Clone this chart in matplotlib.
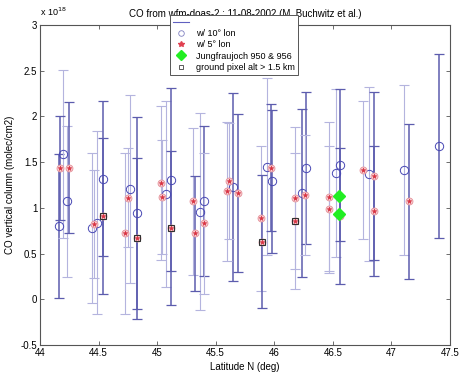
import matplotlib
matplotlib.use('Agg')
import matplotlib.pyplot as plt
from matplotlib.lines import Line2D

plt.rcParams['font.family'] = ['Liberation Sans', 'DejaVu Sans']

# circles: w/ 10 deg lon  (lat, value, error, dark bar?)
circ_lat  = [44.16, 44.20, 44.23, 44.44, 44.49, 44.54, 44.77, 44.83, 45.08, 45.12,
             45.37, 45.40, 45.65, 45.94, 45.98, 46.24, 46.27, 46.53, 46.56, 46.81,
             47.11, 47.41]
circ_val  = [0.80, 1.59, 1.07, 0.78, 0.84, 1.32, 1.21, 0.94, 1.15, 1.31,
             0.96, 1.08, 1.23, 1.45, 1.29, 1.16, 1.44, 1.38, 1.47, 1.37,
             1.41, 1.68]
circ_err  = [0.785, 0.92, 0.83, 0.82, 1.00, 0.85, 1.03, 1.05, 1.015, 1.00,
             1.08, 0.82, 1.03, 0.97, 0.78, 0.92, 0.83, 0.915, 0.83, 0.95,
             0.93, 1.005]
circ_dark = [1, 0, 0, 0, 0, 1, 0, 1, 0, 1,
             0, 1, 1, 0, 1, 1, 1, 0, 1, 0,
             0, 1]

# stars: w/ 5 deg lon
star_lat  = [44.17, 44.25, 44.46, 44.54, 44.73, 44.755, 44.83, 45.03, 45.04, 45.12,
             45.31, 45.32, 45.40, 45.60, 45.61, 45.69, 45.89, 45.90, 45.97, 46.18,
             46.18, 46.26, 46.47, 46.47, 46.56, 46.76, 46.85, 46.85, 47.15]
star_val  = [1.44, 1.44, 0.82, 0.91, 0.72, 1.11, 0.67, 1.27, 1.12, 0.78,
             1.07, 0.72, 0.83, 1.18, 1.29, 1.16, 0.885, 0.63, 1.44, 1.11,
             0.855, 1.14, 1.12, 0.985, 0.91, 1.41, 1.35, 0.965, 1.07]
star_err  = [0.57, 0.715, 0.59, 0.85, 0.88, 0.54, 0.88, 0.845, 0.625, 0.845,
             0.80, 0.625, 0.775, 0.76, 0.635, 0.865, 0.795, 0.73, 0.695, 0.775,
             0.74, 0.66, 0.815, 0.695, 0.745, 0.755, 0.92, 0.715, 0.845]
star_dark = [1, 1, 0, 1, 0, 0, 1, 0, 0, 1,
             0, 1, 0, 0, 0, 1, 0, 1, 1, 0,
             0, 0, 0, 0, 1, 0, 1, 1, 1]

# ground pixel alt > 1.5 km
sq_lat = [44.54, 44.83, 45.12, 45.90, 46.18]
sq_val = [0.91, 0.67, 0.78, 0.63, 0.855]

# Jungfraujoch 950 & 956
jf_lat = [46.55, 46.55]
jf_val = [1.13, 0.93]

LIGHT = '#b4b4de'
DARK = '#5c5cae'

fig = plt.figure(figsize=(4.59, 3.76), dpi=100)
ax = fig.add_axes([0.0871, 0.0824, 0.893, 0.851])


def draw_bars(lats, vals, errs, dark):
    for x, y, e, d in zip(lats, vals, errs, dark):
        ax.errorbar(x, y, yerr=e, fmt='none',
                    ecolor=DARK if d else LIGHT,
                    elinewidth=1.1 if d else 0.8,
                    capsize=3.5, capthick=0.9 if d else 0.8, zorder=2)


draw_bars(circ_lat, circ_val, circ_err, circ_dark)
draw_bars(star_lat, star_val, star_err, star_dark)

ax.plot(circ_lat, circ_val, 'o', mfc='none', mec='#4848b4', ms=6, mew=0.7, zorder=4)
ax.plot(star_lat, star_val, 'o', mfc='#f6d0d4', mec='#e69098', ms=5, mew=0.6, zorder=4)
ax.plot(star_lat, star_val, '*', color='#d83040', ms=3.5, mew=0.4, zorder=5)
ax.plot(sq_lat, sq_val, 's', mfc='none', mec='#303030', ms=4.5, mew=0.8, zorder=6)
ax.plot(jf_lat, jf_val, 'D', color='#22ee22', mec='#22ee22', ms=6, zorder=7)

ax.set_xlim(44, 47.5)
ax.set_ylim(-0.5, 3)
ax.set_xticks([44, 44.5, 45, 45.5, 46, 46.5, 47, 47.5])
ax.set_xticklabels(['44', '44.5', '45', '45.5', '46', '46.5', '47', '47.5'])
ax.set_yticks([-0.5, 0, 0.5, 1, 1.5, 2, 2.5, 3])
ax.set_yticklabels(['-0.5', '0', '0.5', '1', '1.5', '2', '2.5', '3'])
ax.tick_params(direction='in', top=True, right=True, labelsize=7, length=3,
               width=0.6, color='#555555', pad=2)
for sp in ax.spines.values():
    sp.set_color('#555555')
    sp.set_linewidth(0.8)

ax.set_xlabel('Latitude N (deg)', fontsize=7, labelpad=3)
ax.set_ylabel('CO vertical column (molec/cm2)', fontsize=7, labelpad=4)
ax.set_title('CO from wfm-doas-2 : 11-08-2002 (M. Buchwitz et al.)', fontsize=7, pad=6)
fig.text(0.087, 0.952, r'x 10$^{18}$', fontsize=6.5, ha='left', va='bottom')

handles = [
    Line2D([], [], color='#6060c0', lw=0.8),
    Line2D([], [], ls='none', marker='o', mfc='none', mec='#8080c0', ms=4, mew=0.6),
    Line2D([], [], ls='none', marker='*', color='#e04050', ms=4),
    Line2D([], [], ls='none', marker='D', color='#22ee22', ms=5),
    Line2D([], [], ls='none', marker='s', mfc='none', mec='#404040', ms=3.5, mew=0.6),
]
labels = ['', 'w/ 10\u00b0 lon', 'w/ 5\u00b0 lon', 'Jungfraujoch 950 & 956',
          'ground pixel alt > 1.5 km']
leg = ax.legend(handles, labels, loc='upper left', bbox_to_anchor=(0.317, 1.031),
                fontsize=6.5, frameon=True, fancybox=False, framealpha=1,
                edgecolor='#555555', borderpad=0.3, labelspacing=0.25,
                handlelength=1.8, handletextpad=0.8, borderaxespad=0)
leg.get_frame().set_linewidth(0.7)
leg.set_zorder(10)

fig.savefig('out.png', dpi=100)
